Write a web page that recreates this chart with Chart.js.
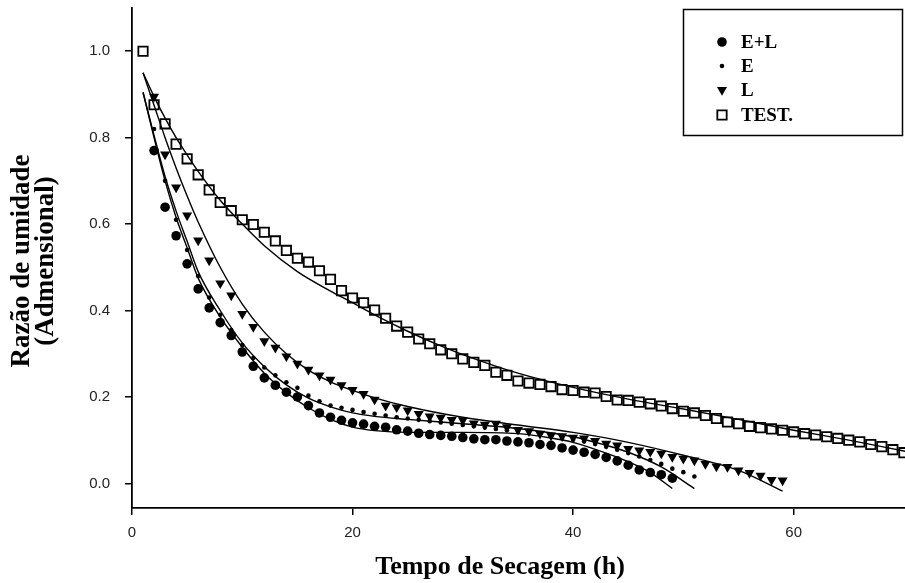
<!DOCTYPE html>
<html>
<head>
<meta charset="utf-8">
<script src="https://cdn.jsdelivr.net/npm/chart.js@4.4.1/dist/chart.umd.min.js"></script>
<style>
    html, body { margin: 0; padding: 0; background: #fff; overflow: hidden; }
    canvas { display: block; }
</style>
</head>
<body>
<canvas id="secagem" width="905" height="583"></canvas>
<script>
// measured points, one per hour, first hour given by *Start
const elStart = 2
const elValues = [0.770, 0.639, 0.573, 0.508, 0.450, 0.406, 0.372, 0.342, 0.304, 0.271,
    0.244, 0.227, 0.211, 0.200, 0.180, 0.163, 0.153, 0.146, 0.140, 0.137,
    0.132, 0.130, 0.124, 0.121, 0.116, 0.113, 0.111, 0.109, 0.106, 0.103,
    0.101, 0.101, 0.098, 0.096, 0.094, 0.090, 0.088, 0.082, 0.077, 0.072,
    0.067, 0.060, 0.052, 0.042, 0.031, 0.025, 0.020, 0.012]

const eStart = 2
const eValues = [0.820, 0.700, 0.610, 0.540, 0.480, 0.430, 0.390, 0.355, 0.320, 0.290,
    0.268, 0.250, 0.234, 0.221, 0.203, 0.190, 0.180, 0.175, 0.170, 0.165,
    0.161, 0.157, 0.153, 0.150, 0.147, 0.144, 0.141, 0.138, 0.135, 0.132,
    0.129, 0.126, 0.123, 0.120, 0.117, 0.113, 0.109, 0.105, 0.101, 0.097,
    0.091, 0.085, 0.078, 0.070, 0.062, 0.054, 0.045, 0.034, 0.026, 0.016]

const lStart = 2
const lValues = [0.895, 0.761, 0.685, 0.620, 0.562, 0.516, 0.463, 0.435, 0.392, 0.362,
    0.329, 0.314, 0.294, 0.277, 0.263, 0.250, 0.240, 0.227, 0.216, 0.207,
    0.194, 0.180, 0.176, 0.169, 0.161, 0.155, 0.152, 0.147, 0.146, 0.139,
    0.136, 0.138, 0.130, 0.124, 0.121, 0.115, 0.111, 0.109, 0.106, 0.104,
    0.098, 0.092, 0.088, 0.080, 0.076, 0.073, 0.069, 0.061, 0.057, 0.053,
    0.045, 0.039, 0.038, 0.030, 0.024, 0.018, 0.008, 0.007]

const testStart = 1
const testValues = [1.000, 0.876, 0.832, 0.785, 0.751, 0.714, 0.679, 0.650, 0.631, 0.610,
    0.599, 0.581, 0.561, 0.539, 0.521, 0.512, 0.492, 0.472, 0.446, 0.429,
    0.418, 0.401, 0.382, 0.364, 0.350, 0.334, 0.323, 0.309, 0.300, 0.288,
    0.280, 0.273, 0.257, 0.250, 0.237, 0.232, 0.229, 0.224, 0.217, 0.215,
    0.211, 0.209, 0.201, 0.193, 0.192, 0.188, 0.184, 0.179, 0.173, 0.167,
    0.163, 0.157, 0.150, 0.142, 0.138, 0.132, 0.129, 0.126, 0.123, 0.119,
    0.115, 0.112, 0.108, 0.104, 0.100, 0.096, 0.090, 0.085, 0.078, 0.071]

// fitted curves
const fitElTime = [1, 2, 3, 4, 5, 6, 8, 10, 12, 14, 16, 18, 20, 22, 25, 30, 35, 38, 40, 43, 45, 47, 49]
const fitElValues = [0.905, 0.80, 0.70, 0.615, 0.545, 0.475, 0.385, 0.315, 0.255, 0.21, 0.175, 0.148, 0.13, 0.122, 0.118, 0.118, 0.115, 0.105, 0.095, 0.07, 0.05, 0.025, -0.012]

const fitETime = [1, 2, 3, 4, 5, 6, 8, 10, 12, 14, 16, 18, 20, 22, 25, 30, 35, 40, 43, 45, 48, 51]
const fitEValues = [0.905, 0.805, 0.71, 0.63, 0.56, 0.49, 0.40, 0.325, 0.27, 0.228, 0.197, 0.177, 0.163, 0.155, 0.148, 0.138, 0.127, 0.108, 0.088, 0.072, 0.038, -0.012]

const fitLTime = [1, 2, 3, 4, 5, 6, 8, 10, 12, 14, 16, 18, 20, 22, 25, 30, 35, 40, 45, 50, 55, 59]
const fitLValues = [0.95, 0.875, 0.80, 0.73, 0.665, 0.605, 0.50, 0.415, 0.35, 0.30, 0.262, 0.235, 0.215, 0.198, 0.178, 0.153, 0.135, 0.118, 0.095, 0.065, 0.03, -0.018]

const fitTestTime = [1, 2, 3, 4, 5, 6, 8, 10, 12, 15, 18, 20, 22, 25, 28, 30, 35, 40, 45, 50, 55, 60, 65, 70.2]
const fitTestValues = [0.95, 0.895, 0.845, 0.80, 0.76, 0.722, 0.655, 0.60, 0.55, 0.49, 0.445, 0.418, 0.39, 0.352, 0.318, 0.298, 0.255, 0.222, 0.195, 0.172, 0.148, 0.123, 0.10, 0.074]

const xTicks = [0, 20, 40, 60]
const yTicks = [0.0, 0.2, 0.4, 0.6, 0.8, 1.0]

function hourly(start, values) {
    return values.map((v, i) => ({ x: start + i, y: v }))
}
function pairs(times, values) {
    return times.map((t, i) => ({ x: t, y: values[i] }))
}

function fitLine(times, values) {
    return {
        type: 'line',
        data: pairs(times, values),
        borderColor: '#000',
        borderWidth: 1.4,
        pointRadius: 0,
        fill: false,
        cubicInterpolationMode: 'monotone',
    }
}

const pointSets = [
    { label: 'E+L', type: 'scatter', data: hourly(elStart, elValues), pointStyle: 'circle', pointRadius: 4.8, backgroundColor: '#000', borderColor: '#000', borderWidth: 0 },
    { label: 'E', type: 'scatter', data: hourly(eStart, eValues), pointStyle: 'circle', pointRadius: 2.3, backgroundColor: '#000', borderColor: '#000', borderWidth: 0 },
    { label: 'L', type: 'scatter', data: hourly(lStart, lValues), pointStyle: 'triangle', pointRotation: 180, pointRadius: 5.8, backgroundColor: '#000', borderColor: '#000', borderWidth: 0 },
    { label: 'TEST.', type: 'scatter', data: hourly(testStart, testValues), pointStyle: 'rect', pointRadius: 6.6, backgroundColor: '#fff', borderColor: '#000', borderWidth: 1.8 },
]

// titles and the boxed legend
const decorPlugin = {
    id: 'decor',
    afterDraw(chart) {
        const ctx = chart.ctx
        ctx.save()
        ctx.fillStyle = '#000'
        ctx.textAlign = 'center'
        ctx.textBaseline = 'middle'
        ctx.font = 'bold 26px "Liberation Serif", "Times New Roman", serif'
        ctx.fillText('Tempo de Secagem (h)', 500, 567)

        ctx.font = 'bold 27px "Liberation Serif", "Times New Roman", serif'
        ctx.save()
        ctx.translate(22, 261)
        ctx.rotate(-Math.PI / 2)
        ctx.fillText('Razão de umidade', 0, 0)
        ctx.restore()
        ctx.save()
        ctx.translate(46, 261)
        ctx.rotate(-Math.PI / 2)
        ctx.fillText('(Admensional)', 0, 0)
        ctx.restore()

        // legend box
        ctx.lineWidth = 1.5
        ctx.strokeStyle = '#000'
        ctx.strokeRect(683.5, 9.5, 219, 126)
        ctx.font = 'bold 19px "Liberation Serif", "Times New Roman", serif'
        ctx.textAlign = 'left'
        const rows = [42, 66, 90, 115]
        pointSets.forEach((ds, i) => {
            ctx.fillStyle = ds.backgroundColor
            ctx.strokeStyle = ds.borderColor
            ctx.lineWidth = ds.borderWidth
            Chart.helpers.drawPoint(ctx, {
                pointStyle: ds.pointStyle,
                rotation: ds.pointRotation || 0,
                radius: ds.pointRadius,
                borderWidth: ds.borderWidth,
            }, 722, rows[i])
            ctx.fillStyle = '#000'
            ctx.fillText(ds.label, 741, rows[i] + 1)
        })
        ctx.restore()
    },
}

function noPad(scale) {
    scale.paddingTop = 0
    scale.paddingBottom = 0
    scale.paddingLeft = 0
    scale.paddingRight = 0
}

const ctx = document.getElementById('secagem').getContext('2d')
const chart = new Chart(ctx, {
    data: {
        datasets: [
            fitLine(fitTestTime, fitTestValues),
            fitLine(fitLTime, fitLValues),
            fitLine(fitETime, fitEValues),
            fitLine(fitElTime, fitElValues),
            ...pointSets,
        ],
    },
    options: {
        responsive: false,
        animation: false,
        layout: { autoPadding: false, padding: { top: 8, right: 0, left: 0, bottom: 0 } },
        plugins: {
            legend: { display: false },
            tooltip: { enabled: false },
        },
        scales: {
            x: {
                type: 'linear',
                min: 0,
                max: 70.1,
                afterFit: (scale) => { scale.height = 75; noPad(scale) },
                afterBuildTicks: (scale) => { scale.ticks = xTicks.map((v) => ({ value: v })) },
                grid: { display: true, drawOnChartArea: false, drawTicks: true, tickLength: 7, color: '#000', lineWidth: 1.5 },
                border: { display: true, color: '#000', width: 1.8 },
                ticks: {
                    color: '#222',
                    padding: 9,
                    maxRotation: 0,
                    font: { family: '"Liberation Sans", Arial, sans-serif', size: 15 },
                },
            },
            y: {
                type: 'linear',
                min: -0.057,
                max: 1.1,
                afterFit: (scale) => { scale.width = 132; noPad(scale) },
                afterBuildTicks: (scale) => { scale.ticks = yTicks.map((v) => ({ value: v })) },
                grid: { display: true, drawOnChartArea: false, drawTicks: true, tickLength: 7, color: '#000', lineWidth: 1.5 },
                border: { display: true, color: '#000', width: 1.8 },
                ticks: {
                    color: '#222',
                    padding: 15,
                    font: { family: '"Liberation Sans", Arial, sans-serif', size: 15 },
                    callback: (v) => Number(v).toFixed(1),
                },
            },
        },
    },
    plugins: [decorPlugin],
})
</script>
</body>
</html>
